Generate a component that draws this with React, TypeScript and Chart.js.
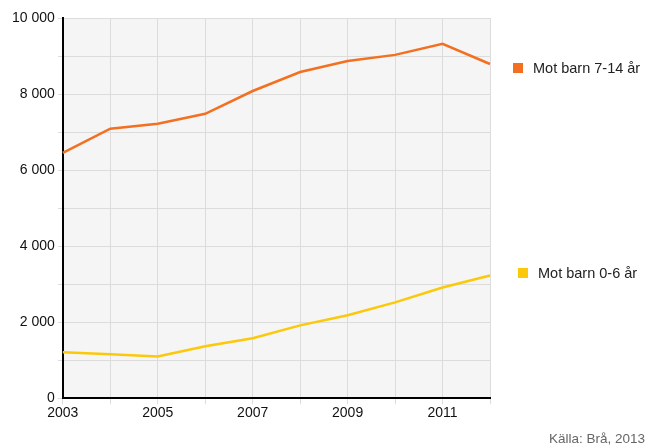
import React, { useEffect, useRef } from "react";
import { Chart, registerables } from "chart.js";

Chart.register(...registerables);

const years = ["2003", "2004", "2005", "2006", "2007", "2008", "2009", "2010", "2011", "2012"];
const barn7to14 = [6450, 7090, 7220, 7480, 8080, 8580, 8870, 9030, 9320, 8790];
const barn0to6 = [1210, 1155, 1100, 1365, 1575, 1915, 2180, 2520, 2910, 3225];
const seriesNames = ["Mot barn 7-14 år", "Mot barn 0-6 år"];
const sourceText = "Källa: Brå, 2013";

const ORANGE = "#f37021";
const YELLOW = "#fcc80a";
const FONT = "'Liberation Sans', Arial, sans-serif";

function fmt(v: number) {
  return String(v).replace(/\B(?=(\d{3})+(?!\d))/g, " ");
}

export default function App() {
  const ref = useRef<HTMLCanvasElement | null>(null);
  useEffect(() => {
    if (!ref.current) return;
    const bgPlugin = {
      id: "bg",
      beforeDraw(chart: any) {
        const { ctx, chartArea } = chart;
        ctx.save();
        ctx.fillStyle = "#f5f5f5";
        ctx.fillRect(chartArea.left, chartArea.top, chartArea.right - chartArea.left, chartArea.bottom - chartArea.top);
        ctx.restore();
      },
      afterDraw(chart: any) {
        const { ctx } = chart;
        ctx.save();
        ctx.font = `14.5px ${FONT}`;
        ctx.textBaseline = "middle";
        const items = [
          { color: ORANGE, x: 513, y: 68, label: seriesNames[0] },
          { color: YELLOW, x: 518, y: 273, label: seriesNames[1] },
        ];
        for (const it of items) {
          ctx.fillStyle = it.color;
          ctx.fillRect(it.x, it.y - 5, 10, 10);
          ctx.fillStyle = "#222";
          ctx.fillText(it.label, it.x + 20, it.y + 1);
        }
        ctx.font = `13.5px ${FONT}`;
        ctx.fillStyle = "#666";
        ctx.textAlign = "right";
        ctx.textBaseline = "alphabetic";
        ctx.fillText(sourceText, 645, 443);
        ctx.restore();
      },
    };
    const chart = new Chart(ref.current, {
      type: "line",
      data: {
        labels: years,
        datasets: [
          {
            label: seriesNames[0],
            data: barn7to14,
            borderColor: ORANGE,
            backgroundColor: ORANGE,
            borderWidth: 2.5,
            pointRadius: 0,
            tension: 0,
          },
          {
            label: seriesNames[1],
            data: barn0to6,
            borderColor: YELLOW,
            backgroundColor: YELLOW,
            borderWidth: 2.5,
            pointRadius: 0,
            tension: 0,
          },
        ],
      },
      options: {
        responsive: false,
        animation: false,
        layout: { padding: { left: 9, right: 159, top: 18, bottom: 24 } },
        plugins: { legend: { display: false }, tooltip: { enabled: false } },
        scales: {
          x: {
            offset: false,
            grid: { color: "#dcdcdc", tickLength: 6, lineWidth: 1 },
            border: { color: "#000", width: 2 },
            ticks: {
              autoSkip: false,
              maxRotation: 0,
              color: "#111",
              padding: 1,
              font: { family: FONT, size: 14 },
              callback: (_v: any, i: number) => (i % 2 === 0 ? years[i] : ""),
            },
          },
          y: {
            min: 0,
            max: 10000,
            grid: { color: "#dcdcdc", tickLength: 5, lineWidth: 1 },
            border: { color: "#000", width: 2 },
            ticks: {
              stepSize: 1000,
              color: "#111",
              padding: 3,
              font: { family: FONT, size: 14 },
              callback: (v: any) => (Number(v) % 2000 === 0 ? fmt(Number(v)) : ""),
            },
          },
        },
      },
      plugins: [bgPlugin],
    });
    return () => chart.destroy();
  }, []);
  return (
    <div style={{ position: "fixed", left: 0, top: 0, width: 649, height: 447, background: "#fff" }}>
      <canvas ref={ref} width={649} height={447} />
    </div>
  );
}
